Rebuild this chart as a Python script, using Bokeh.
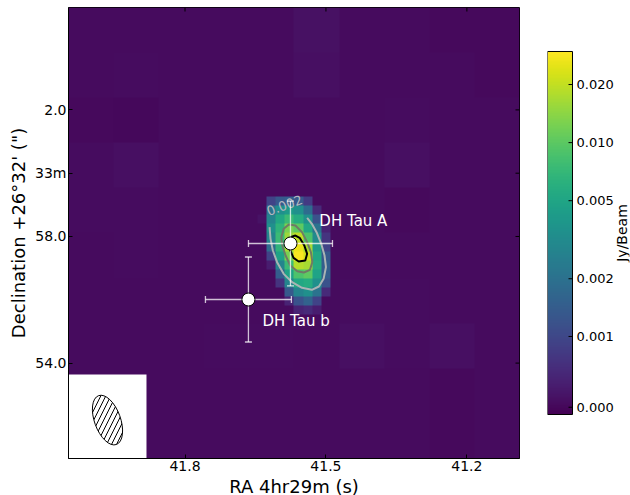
import numpy as np
from bokeh.plotting import figure
from bokeh.layouts import row
from bokeh.embed import file_html
from bokeh.resources import INLINE
from bokeh.models import (FixedTicker, LinearColorMapper, Range1d, Whisker,
                          ColumnDataSource, TeeHead)
from bokeh.palettes import Viridis256
from bokeh.core.properties import value

X_TICKS = [41.8, 41.5, 41.2]
X_LABELS = ["41.8", "41.5", "41.2"]
Y_TICKS = [54, 58, 60, 62]
Y_LABELS = {54: "54.0", 58: "58.0", 60: "33m", 62: "2.0"}
CB_JY = ["0.000", "0.001", "0.002", "0.005", "0.010", "0.020"]
CB_LEVEL = [2.0, 21.5, 37.4, 58.9, 74.9, 90.9]   # stretched colour level (%)

# faint background of the map, colour level (%) per block of 5x5 map cells, top row first
BACKGROUND = [
    [3, 3, 3, 3, 3, 4.5, 3, 3, 2.5, 2.5],
    [3, 3.5, 3, 3, 3, 4, 3, 3, 3, 2.5],
    [2.5, 2, 3, 3, 3, 3, 3, 3.5, 3, 3],
    [3.5, 4, 3, 3, 3, 3, 3, 4, 3, 3],
    [3.5, 3.5, 3, 3, 3, 3, 3, 2.5, 3, 3],
    [3, 3.5, 3, 3, 3, 3, 3, 3, 3, 3],
    [3, 3, 3, 3, 3, 3, 3.5, 3.5, 3, 3],
    [3, 3, 3, 3.5, 3.5, 3, 4, 3.5, 4, 3],
    [3, 3, 3, 3, 3, 3, 3, 3, 2.5, 3],
    [3, 3, 3, 3, 3, 3, 3, 3, 2.5, 3],
]
# bright source: map row index, first column index, colour levels (%)
SRC_ROW_INDEX = list(range(21, 34))
SRC_FIRST_COL = [22, 22, 21, 22, 22, 22, 22, 22, 23, 23, 24, 24, 25]
SRC_LEVELS = [
    [20, 28, 30, 28, 17],
    [38, 50, 55, 50, 35, 12],
    [5, 45, 60, 68, 62, 50, 25],
    [50, 65, 80, 75, 60, 38, 10],
    [45, 68, 85, 90, 72, 48, 15],
    [35, 65, 87, 97, 87, 55, 20],
    [20, 58, 80, 99, 93, 60, 28],
    [8, 45, 68, 89, 87, 62, 30],
    [30, 58, 72, 75, 58, 30],
    [15, 45, 60, 62, 50, 25],
    [28, 45, 50, 38, 12],
    [10, 25, 32, 20],
    [10, 12, 8],
]

C1_X = [41.620, 41.618, 41.613, 41.604, 41.590, 41.572, 41.551, 41.530, 41.515, 41.505, 41.500, 41.503, 41.510, 41.520, 41.530, 41.540]
C1_Y = [58.295, 57.926, 57.557, 57.189, 56.820, 56.557, 56.378, 56.315, 56.420, 56.662, 57.031, 57.399, 57.768, 58.137, 58.400, 58.589]
C2_X = [41.595, 41.593, 41.586, 41.576, 41.561, 41.547, 41.534, 41.529, 41.532, 41.540, 41.551, 41.565, 41.579, 41.590, 41.595]
C2_Y = [57.979, 57.715, 57.399, 57.083, 56.904, 56.862, 56.947, 57.189, 57.505, 57.821, 58.137, 58.347, 58.379, 58.242, 57.979]
C3_X = [41.576, 41.565, 41.556, 41.546, 41.540, 41.544, 41.558, 41.569, 41.576, 41.583, 41.576]
C3_Y = [57.979, 58.031, 57.958, 57.715, 57.452, 57.241, 57.210, 57.326, 57.557, 57.768, 57.979]

STAR_NAMES = ["DH Tau A", "DH Tau b"]
STAR_X = [41.5755, 41.665]
STAR_Y = [57.779, 56.009]
STAR_XERR = [0.0894, 0.0915]
STAR_YERR = [1.34, 1.343]

X_LEFT, X_RIGHT = 42.048, 41.088
Y_BOTTOM, Y_TOP = 50.986, 65.235

mapper = LinearColorMapper(palette=Viridis256, low=0, high=100)

grid = np.kron(np.array(BACKGROUND, dtype=float), np.ones((5, 5)))
for r, c0, vals in zip(SRC_ROW_INDEX, SRC_FIRST_COL, SRC_LEVELS):
    grid[r, c0:c0 + len(vals)] = vals

p = figure(frame_width=451, frame_height=451, width=520, height=495,
           x_range=Range1d(X_LEFT, X_RIGHT), y_range=Range1d(Y_BOTTOM, Y_TOP),
           output_backend="svg", toolbar_location=None,
           min_border_left=68, min_border_top=7, min_border_right=1, min_border_bottom=37,
           margin=(0, 0, 0, 0))
p.grid.visible = False
p.outline_line_color = "black"
p.image(image=[np.flipud(np.fliplr(grid))], x=X_RIGHT, y=Y_BOTTOM, dw=X_LEFT - X_RIGHT, dh=Y_TOP - Y_BOTTOM,
        color_mapper=mapper)

CONTOUR = dict(line_width=2)
p.line(C1_X, C1_Y, line_color="#a9b4b4", **CONTOUR)
p.line(C2_X, C2_Y, line_color="#6f7a66", **CONTOUR)
p.line(C3_X, C3_Y, line_color="black", **CONTOUR)
p.text([41.588], [58.98], text=["0.002"], text_color="#b4b8c0", text_font=value("DejaVu Sans"),
       text_font_size="13px", angle=20, angle_units="deg", text_align="center", text_baseline="middle")

# beam inset
p.quad(left=[X_LEFT], right=[41.882], bottom=[Y_BOTTOM], top=[53.64], fill_color="white", line_color=None)
p.ellipse(x=[41.965], y=[52.20], width=[26], height=[52], width_units="screen", height_units="screen",
          angle=20, angle_units="deg", fill_color="white", line_color="black", line_width=1,
          hatch_pattern="right_diagonal_line", hatch_color="black", hatch_scale=10, hatch_weight=1)

src = ColumnDataSource(dict(x=STAR_X, y=STAR_Y,
                            xl=[a - b for a, b in zip(STAR_X, STAR_XERR)],
                            xu=[a + b for a, b in zip(STAR_X, STAR_XERR)],
                            yl=[a - b for a, b in zip(STAR_Y, STAR_YERR)],
                            yu=[a + b for a, b in zip(STAR_Y, STAR_YERR)]))
for dim, base, lo, up in (("width", "y", "xl", "xu"), ("height", "x", "yl", "yu")):
    w = Whisker(source=src, base=base, lower=lo, upper=up, dimension=dim, level="glyph",
                line_color="white", line_alpha=0.75, line_width=1.3,
                upper_head=TeeHead(size=7, line_color="white", line_alpha=0.75, line_width=1.3),
                lower_head=TeeHead(size=7, line_color="white", line_alpha=0.75, line_width=1.3))
    p.add_layout(w)
p.scatter(STAR_X, STAR_Y, size=13, fill_color="white", line_color="black", line_width=1, level="overlay")
p.text([41.514, 41.635], [58.474, 55.346], text=STAR_NAMES, text_color="white",
       text_font=value("DejaVu Sans"), text_font_size="15px", text_baseline="middle", text_align="left")

# tick marks on the top and right edges of the frame
TICK_DX = (X_LEFT - X_RIGHT) / 451 * 4
TICK_DY = (Y_TOP - Y_BOTTOM) / 451 * 4
p.segment(x0=X_TICKS, x1=X_TICKS, y0=[Y_TOP] * 3, y1=[Y_TOP - TICK_DY] * 3, line_color="black", line_width=1)
p.segment(x0=[X_RIGHT] * 4, x1=[X_RIGHT + TICK_DX] * 4, y0=Y_TICKS, y1=Y_TICKS, line_color="black", line_width=1)

def style(ax):
    ax.major_tick_in = 4
    ax.major_tick_out = 0
    ax.minor_tick_line_color = None
    ax.major_label_text_font = "DejaVu Sans"
    ax.major_label_text_color = "black"
    ax.axis_line_color = "black"
    ax.major_tick_line_color = "black"
    ax.axis_label_text_font = "DejaVu Sans"
    ax.axis_label_text_font_style = "normal"
    ax.axis_label_text_color = "black"

xa = p.xaxis[0]
ya = p.yaxis[0]
style(xa); style(ya)
xa.ticker = FixedTicker(ticks=X_TICKS)
xa.major_label_overrides = dict(zip(X_TICKS, X_LABELS))
xa.major_label_text_font_size = "14px"
xa.axis_label = "RA 4hr29m (s)"
xa.axis_label_text_font_size = "18px"
xa.major_label_standoff = 2
xa.axis_label_standoff = 2
ya.ticker = FixedTicker(ticks=Y_TICKS)
ya.major_label_overrides = Y_LABELS
ya.major_label_text_font_size = "14px"
ya.axis_label = "Declination +26\u00b032' (\")"
ya.axis_label_text_font_size = "18px"
ya.major_label_standoff = 2
ya.axis_label_standoff = 3

# colour bar: one wide frame holds the bar (x 0..1 = 25 px), its tick labels and title
CB_LOW = -12.12
CB_HIGH = 112.12
CB_PX = 1 / 25
cb = figure(frame_width=82, frame_height=451, width=110, height=495,
            x_range=Range1d(0, 82 * CB_PX), y_range=Range1d(CB_LOW, CB_HIGH),
            output_backend="svg", toolbar_location=None,
            min_border_left=27, min_border_top=7, min_border_right=1, min_border_bottom=37,
            margin=(0, 0, 0, 0))
cb.grid.visible = False
cb.xaxis.visible = False
cb.yaxis.visible = False
cb.outline_line_color = None
cb.image(image=[np.arange(256).reshape(256, 1) / 255 * 100], x=0, y=0, dw=1, dh=100, color_mapper=mapper)
cb.quad(left=[0], right=[1], bottom=[0], top=[100], fill_color=None, line_color="black", line_width=1)
cb.segment(x0=[1 - 4 * CB_PX] * len(CB_LEVEL), x1=[1] * len(CB_LEVEL), y0=CB_LEVEL, y1=CB_LEVEL,
           line_color="black", line_width=1)
cb.text([1 + 4 * CB_PX] * len(CB_LEVEL), CB_LEVEL, text=CB_JY, text_color="black",
        text_font=value("DejaVu Sans"), text_font_size="13px", text_align="left", text_baseline="middle")
cb.text([74 * CB_PX], [50], text=["Jy/Beam"], text_color="black", angle=90, angle_units="deg",
        text_font=value("DejaVu Sans"), text_font_size="14px", text_align="center", text_baseline="middle")

layout = row(p, cb, spacing=0)
open("out.html", "w").write(file_html(layout, INLINE))
